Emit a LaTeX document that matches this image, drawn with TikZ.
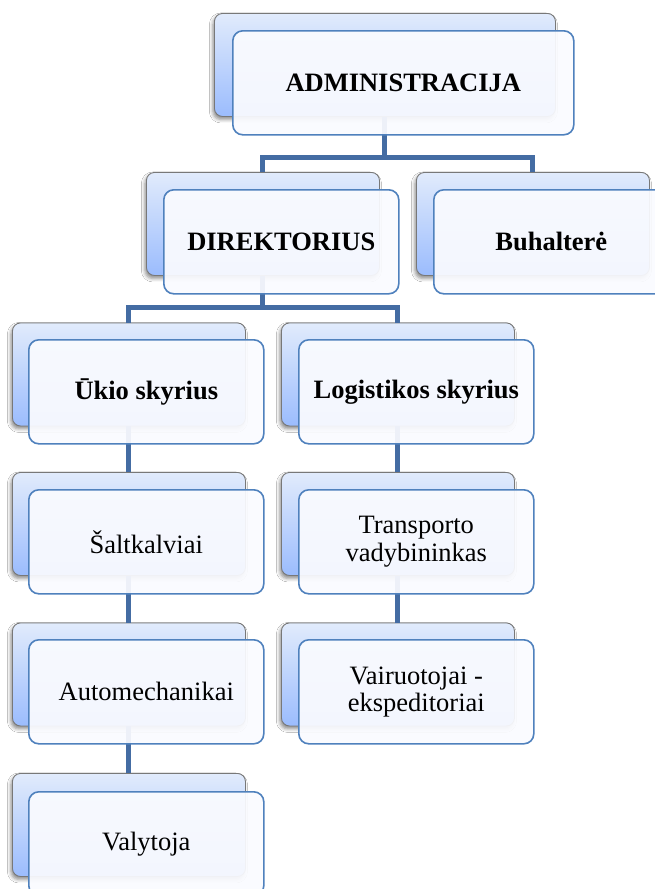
\documentclass[tikz,border=0pt]{standalone}
\usepackage{fontspec}
\setmainfont{Liberation Serif}
\usetikzlibrary{shadows.blur}

\definecolor{connblue}{RGB}{68,108,163}
\definecolor{frameblue}{RGB}{79,129,189}
\definecolor{shadetop}{RGB}{225,235,252}
\definecolor{shadebot}{RGB}{155,188,253}
\definecolor{backedge}{RGB}{120,120,120}
\definecolor{facefill}{RGB}{250,251,255}

\begin{document}
\begin{tikzpicture}[x=1pt,y=-1pt,
  backbox/.style={anchor=north west, inner sep=0pt,
    minimum width=233pt, minimum height=103pt,
    rounded corners=8pt, draw=backedge, line width=0.9pt,
    top color=shadetop, bottom color=shadebot,
    blur shadow={shadow xshift=-1.5pt, shadow yshift=-3pt,
      shadow blur radius=3.5pt, shadow opacity=45}},
  frontbox/.style={anchor=north west, inner sep=0pt,
    minimum width=235pt, minimum height=104pt,
    rounded corners=10pt, draw=frameblue, line width=1.6pt,
    fill=facefill, fill opacity=0.93, draw opacity=1, text opacity=1,
    align=center, font=\fontsize{26.5}{27.5}\selectfont},
  headbox/.style={frontbox, font=\fontsize{26.5}{27.5}\selectfont\bfseries},
  conn/.style={draw=connblue, line width=5pt, line join=miter}]

\useasboundingbox (0,0) rectangle (655,889);
\clip (0,0) rectangle (655,889);
\fill[white] (0,0) rectangle (655,889);

% rear (shaded) plates
\node[backbox, minimum width=341pt] (adminB) at (214,13) {};
\node[backbox] (dirB)   at (146,172) {};
\node[backbox] (buhB)   at (416,172) {};
\node[backbox] (ukioB)  at (12,322.5) {};
\node[backbox] (logiB)  at (281,322.5) {};
\node[backbox] (saltB)  at (12,472) {};
\node[backbox] (transB) at (281,472) {};
\node[backbox] (autoB)  at (12,622.5) {};
\node[backbox] (vairB)  at (281,622.5) {};
\node[backbox] (valyB)  at (12,773) {};

% connectors between the rear plates
\draw[conn] (adminB.south) |- ([yshift=15pt]dirB.north) -- (dirB.north);
\draw[conn] (adminB.south) |- ([yshift=15pt]buhB.north) -- (buhB.north);
\draw[conn] (dirB.south) |- ([yshift=15pt]ukioB.north) -- (ukioB.north);
\draw[conn] (dirB.south) |- ([yshift=15pt]logiB.north) -- (logiB.north);
\draw[conn] (ukioB.south) -- (saltB.north);
\draw[conn] (saltB.south) -- (autoB.north);
\draw[conn] (autoB.south) -- (valyB.north);
\draw[conn] (logiB.south) -- (transB.north);
\draw[conn] (transB.south) -- (vairB.north);

% front labelled cards
\node[headbox, minimum width=341pt] (admin) at (232,30) {ADMINISTRACIJA};
\node[headbox] (dir)   at (163,189) {DIREKTORIUS};
\node[headbox] (buh)   at (433,189) {Buhalterė};
\node[headbox] (ukio)  at (28,339) {Ūkio skyrius};
\node[headbox] (logi)  at (298,339) {Logistikos skyrius};
\node[frontbox] (salt)  at (28,489) {Šaltkalviai};
\node[frontbox] (trans) at (298,489) {Transporto\\vadybininkas};
\node[frontbox] (auto)  at (28,639) {Automechanikai};
\node[frontbox] (vair)  at (298,639) {Vairuotojai -\\ekspeditoriai};
\node[frontbox] (valy)  at (28,791) {Valytoja};

\end{tikzpicture}
\end{document}
